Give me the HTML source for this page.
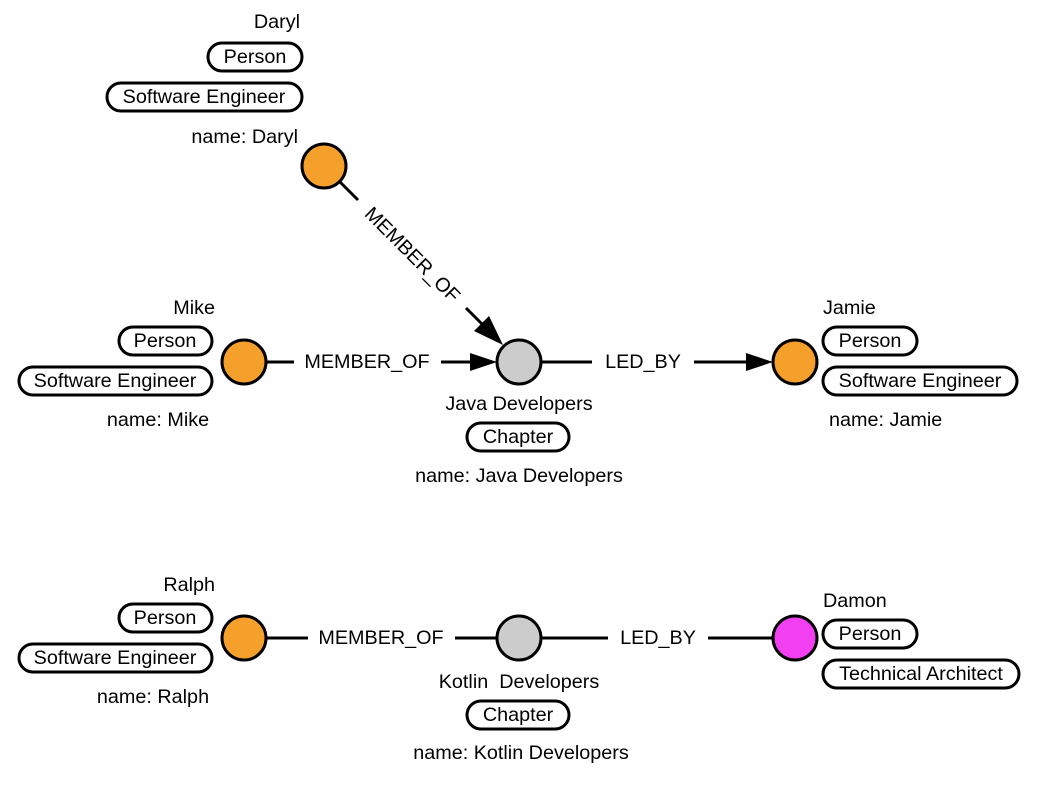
<!DOCTYPE html>
<html><head><meta charset="utf-8"><style>
html,body{margin:0;padding:0;background:#fff;}
svg{display:block;}
text{font-family:"Liberation Sans",Arial,sans-serif;font-size:19.8px;fill:#000;}
.p{fill:#fff;stroke:#000;stroke-width:3;}
.n{stroke:#000;stroke-width:3;}
.l{stroke:#000;stroke-width:3;fill:none;}
</style></head><body>
<svg width="1048" height="798" viewBox="0 0 1048 798" xmlns="http://www.w3.org/2000/svg">
<!-- edges -->
<line class="l" x1="340" y1="182" x2="358" y2="200"/>
<line class="l" x1="466" y1="308" x2="490" y2="332"/>
<polygon points="503,345 474,331 489,316" fill="#000"/>
<text transform="translate(412,255) rotate(45)" text-anchor="middle" dominant-baseline="central">MEMBER_OF</text>

<line class="l" x1="266" y1="362" x2="294" y2="362"/>
<text x="367" y="362" text-anchor="middle" dominant-baseline="central">MEMBER_OF</text>
<line class="l" x1="441" y1="362" x2="480" y2="362"/>
<polygon points="497,362 470,353 470,371" fill="#000"/>

<line class="l" x1="541" y1="362" x2="592" y2="362"/>
<text x="643" y="362" text-anchor="middle" dominant-baseline="central">LED_BY</text>
<line class="l" x1="694" y1="362" x2="757" y2="362"/>
<polygon points="773,362 746,353 746,371" fill="#000"/>

<line class="l" x1="266" y1="638" x2="308" y2="638"/>
<text x="381" y="638" text-anchor="middle" dominant-baseline="central">MEMBER_OF</text>
<line class="l" x1="455" y1="638" x2="497" y2="638"/>
<line class="l" x1="541" y1="638" x2="608" y2="638"/>
<text x="658" y="638" text-anchor="middle" dominant-baseline="central">LED_BY</text>
<line class="l" x1="708" y1="638" x2="773" y2="638"/>

<!-- nodes -->
<circle class="n" cx="324" cy="166" r="22" fill="#f6a02c"/>
<circle class="n" cx="244" cy="362" r="22" fill="#f6a02c"/>
<circle class="n" cx="519" cy="362" r="22" fill="#cccccc"/>
<circle class="n" cx="795" cy="362" r="22" fill="#f6a02c"/>
<circle class="n" cx="244" cy="638" r="22" fill="#f6a02c"/>
<circle class="n" cx="519" cy="638" r="22" fill="#cccccc"/>
<circle class="n" cx="795" cy="638" r="22" fill="#f23ff2"/>

<!-- Daryl -->
<text x="300" y="22" text-anchor="end" dominant-baseline="central">Daryl</text>
<rect class="p" x="208" y="43" width="94" height="28" rx="14"/>
<text x="255" y="57" text-anchor="middle" dominant-baseline="central">Person</text>
<rect class="p" x="107" y="83" width="195" height="28" rx="14"/>
<text x="204" y="97" text-anchor="middle" dominant-baseline="central">Software Engineer</text>
<text x="298" y="137" text-anchor="end" dominant-baseline="central">name: Daryl</text>

<!-- Mike -->
<text x="215" y="308" text-anchor="end" dominant-baseline="central">Mike</text>
<rect class="p" x="119" y="327" width="93" height="28" rx="14"/>
<text x="165" y="341" text-anchor="middle" dominant-baseline="central">Person</text>
<rect class="p" x="19" y="367" width="193" height="28" rx="14"/>
<text x="115" y="381" text-anchor="middle" dominant-baseline="central">Software Engineer</text>
<text x="158" y="420" text-anchor="middle" dominant-baseline="central">name: Mike</text>

<!-- Java -->
<text x="519" y="404" text-anchor="middle" dominant-baseline="central">Java Developers</text>
<rect class="p" x="467" y="423" width="102" height="28" rx="14"/>
<text x="518" y="437" text-anchor="middle" dominant-baseline="central">Chapter</text>
<text x="519" y="476" text-anchor="middle" dominant-baseline="central">name: Java Developers</text>

<!-- Jamie -->
<text x="823" y="308" dominant-baseline="central">Jamie</text>
<rect class="p" x="823" y="327" width="94" height="28" rx="14"/>
<text x="870" y="341" text-anchor="middle" dominant-baseline="central">Person</text>
<rect class="p" x="823" y="367" width="194" height="28" rx="14"/>
<text x="920" y="381" text-anchor="middle" dominant-baseline="central">Software Engineer</text>
<text x="829" y="420" dominant-baseline="central">name: Jamie</text>

<!-- Ralph -->
<text x="215" y="585" text-anchor="end" dominant-baseline="central">Ralph</text>
<rect class="p" x="119" y="604" width="93" height="28" rx="14"/>
<text x="165" y="618" text-anchor="middle" dominant-baseline="central">Person</text>
<rect class="p" x="19" y="644" width="193" height="28" rx="14"/>
<text x="115" y="658" text-anchor="middle" dominant-baseline="central">Software Engineer</text>
<text x="153" y="697" text-anchor="middle" dominant-baseline="central">name: Ralph</text>

<!-- Kotlin -->
<text x="519" y="682" text-anchor="middle" dominant-baseline="central">Kotlin&#160; Developers</text>
<rect class="p" x="467" y="701" width="102" height="28" rx="14"/>
<text x="518" y="715" text-anchor="middle" dominant-baseline="central">Chapter</text>
<text x="521" y="753" text-anchor="middle" dominant-baseline="central">name: Kotlin Developers</text>

<!-- Damon -->
<text x="823" y="601" dominant-baseline="central">Damon</text>
<rect class="p" x="823" y="620" width="94" height="28" rx="14"/>
<text x="870" y="634" text-anchor="middle" dominant-baseline="central">Person</text>
<rect class="p" x="823" y="660" width="196" height="28" rx="14"/>
<text x="921" y="674" text-anchor="middle" dominant-baseline="central">Technical Architect</text>
</svg>
</body></html>
